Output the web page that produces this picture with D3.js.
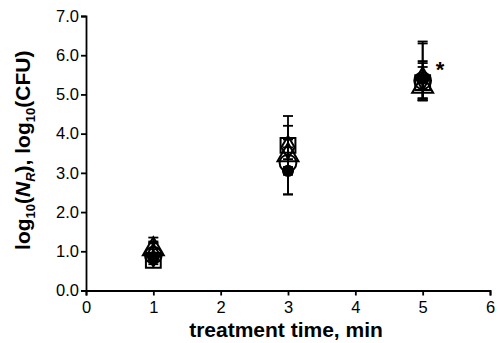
<!DOCTYPE html>
<html>
<head>
<meta charset="utf-8">
<script src="https://cdn.jsdelivr.net/npm/d3@7"></script>
<style>
  body { margin: 0; background: #fff; }
  text { font-family: "Liberation Sans", Arial, sans-serif; }
</style>
</head>
<body>
<div id="chart"></div>
<script>
// treatment times (min)
var times = [1, 3, 5];

// one entry per marker series: mean, upper and lower error
var squareMean = [0.77, 3.70, 5.30],  squarePlus = [0.45, 0.75, 1.05],  squareMinus = [0.10, 0.60, 0.45];
var diamondMean = [0.90, 3.65, 5.40], diamondPlus = [0.35, 0.55, 0.90], diamondMinus = [0.15, 0.50, 0.55];
var triangleMean = [1.05, 3.45, 5.20], trianglePlus = [0.30, 0.40, 0.50], triangleMinus = [0.20, 0.50, 0.35];
var circleMean = [0.90, 3.25, 5.35],  circlePlus = [0.30, 0.40, 0.50],  circleMinus = [0.15, 0.80, 0.45];
var dotMean = [0.85, 3.05, 5.40],     dotPlus = [0.20, 0.30, 0.40],     dotMinus = [0.10, 0.60, 0.50];

var xTicks = [0, 1, 2, 3, 4, 5, 6];
var yTicks = [0, 1, 2, 3, 4, 5, 6, 7];

var margin = {top: 16, right: 8, bottom: 53, left: 86},
    width = 490 - margin.left,
    height = 290.5 - margin.top;

var svg = d3.select("#chart")
  .append("svg")
    .attr("width", 498)
    .attr("height", 343)
  .append("g")
    .attr("transform", "translate(" + margin.left + "," + margin.top + ")");

var x = d3.scaleLinear().domain([0, 6]).range([0, width]);
var y = d3.scaleLinear().domain([0, 7]).range([height, 0]);

var xAxis = svg.append("g")
  .attr("transform", "translate(0," + height + ")")
  .call(d3.axisBottom(x).tickValues(xTicks).tickFormat(d3.format("d")).tickSizeOuter(0).tickSize(5));
var yAxis = svg.append("g")
  .call(d3.axisLeft(y).tickValues(yTicks).tickFormat(d3.format(".1f")).tickSizeOuter(0).tickSize(5));

[xAxis, yAxis].forEach(function(a) {
  a.select(".domain").attr("stroke", "#000").attr("stroke-width", 1.8);
  a.selectAll(".tick line").attr("stroke", "#000").attr("stroke-width", 1.8);
  a.selectAll(".tick text").attr("fill", "#000").style("font-size", "16.5px");
});
xAxis.selectAll(".tick text").attr("dy", "0.9em");
yAxis.selectAll(".tick text").attr("x", -7);

// axis titles
svg.append("text")
  .attr("x", x(3) - 2)
  .attr("y", height + 46)
  .attr("text-anchor", "middle")
  .style("font-size", "21px")
  .style("font-weight", "bold")
  .text("treatment time, min");

var yt = svg.append("text")
  .attr("transform", "translate(" + (-56) + "," + (height / 2 - 3) + ") rotate(-90)")
  .attr("text-anchor", "middle")
  .style("font-size", "21px")
  .style("font-weight", "bold");
yt.append("tspan").text("log");
yt.append("tspan").attr("dy", 5).style("font-size", "13px").text("10");
yt.append("tspan").attr("dy", -5).text("(");
yt.append("tspan").style("font-style", "italic").text("N");
yt.append("tspan").attr("dy", 5).style("font-size", "13px").style("font-style", "italic").text("R");
yt.append("tspan").attr("dy", -5).text("), log");
yt.append("tspan").attr("dy", 5).style("font-size", "13px").text("10");
yt.append("tspan").attr("dy", -5).text("(CFU)");

var series = [
  {mean: squareMean, plus: squarePlus, minus: squareMinus, symbol: d3.symbolSquare, size: 220, fill: "none"},
  {mean: diamondMean, plus: diamondPlus, minus: diamondMinus, symbol: d3.symbolDiamond, size: 150, fill: "none"},
  {mean: triangleMean, plus: trianglePlus, minus: triangleMinus, symbol: d3.symbolTriangle, size: 190, fill: "none"},
  {mean: circleMean, plus: circlePlus, minus: circleMinus, symbol: d3.symbolCircle, size: 220, fill: "none"},
  {mean: dotMean, plus: dotPlus, minus: dotMinus, symbol: d3.symbolCircle, size: 80, fill: "#000"}
];

var points = [];
series.forEach(function(s) {
  times.forEach(function(t, i) {
    points.push({t: t, m: s.mean[i], hi: s.mean[i] + s.plus[i], lo: s.mean[i] - s.minus[i], s: s});
  });
});

// error bars
var eb = svg.append("g").selectAll("g.err")
  .data(points)
  .enter()
  .append("g")
    .attr("class", "err")
    .attr("stroke", "#000")
    .attr("stroke-width", 1.8);
eb.append("line")
  .attr("x1", function(d) { return x(d.t); })
  .attr("x2", function(d) { return x(d.t); })
  .attr("y1", function(d) { return y(d.lo); })
  .attr("y2", function(d) { return y(d.hi); });
eb.append("line")
  .attr("x1", function(d) { return x(d.t) - 5; })
  .attr("x2", function(d) { return x(d.t) + 5; })
  .attr("y1", function(d) { return y(d.hi); })
  .attr("y2", function(d) { return y(d.hi); });
eb.append("line")
  .attr("x1", function(d) { return x(d.t) - 5; })
  .attr("x2", function(d) { return x(d.t) + 5; })
  .attr("y1", function(d) { return y(d.lo); })
  .attr("y2", function(d) { return y(d.lo); });

// markers
svg.append("g").selectAll("path.pt")
  .data(points)
  .enter()
  .append("path")
    .attr("class", "pt")
    .attr("d", function(d) { return d3.symbol().type(d.s.symbol).size(d.s.size)(); })
    .attr("transform", function(d) { return "translate(" + x(d.t) + "," + y(d.m) + ")"; })
    .attr("fill", function(d) { return d.s.fill; })
    .attr("stroke", "#000")
    .attr("stroke-width", 2);

// significance mark
svg.append("text")
  .attr("x", x(5) + 13)
  .attr("y", y(5.45))
  .style("font-size", "22px")
  .style("font-weight", "bold")
  .text("*");
</script>
</body>
</html>
